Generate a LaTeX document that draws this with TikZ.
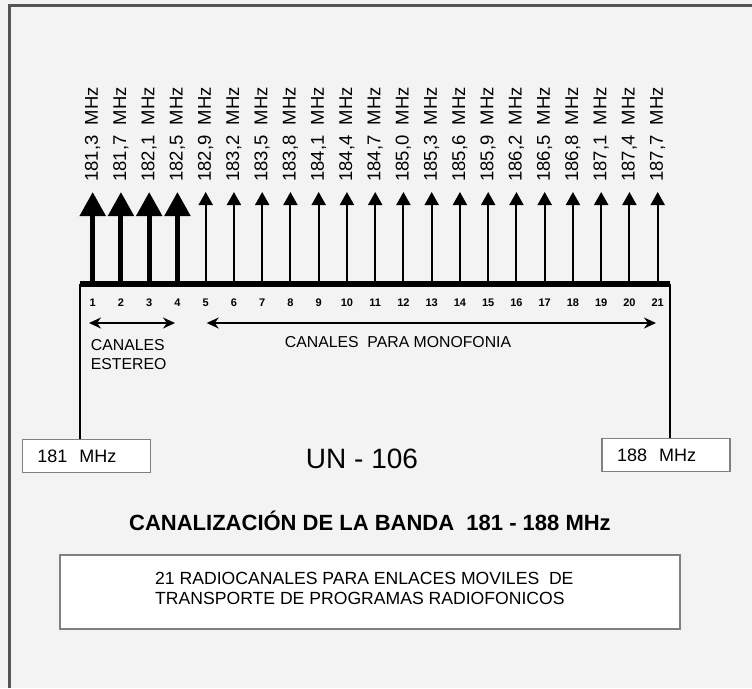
\documentclass[tikz,border=0pt]{standalone}
\usepackage{fontspec}
\setmainfont{Liberation Sans}
\usetikzlibrary{arrows.meta,positioning}
\definecolor{bggray}{HTML}{F3F3F3}
\definecolor{framegray}{HTML}{555555}
\definecolor{boxgray}{HTML}{808080}
\newcommand{\setfs}[2]{\fontsize{#1}{#2}\selectfont}

\begin{document}
\begin{tikzpicture}
  [
    x=1pt,y=-1pt,
    freq/.style={rotate=90, anchor=west, inner sep=0pt, font=\setfs{18.5pt}{21pt}},
    stereo/.style={line width=5pt, -{Triangle[width=25pt,length=24pt]}},
    mono/.style={line width=2pt, -{Triangle[width=14pt,length=13pt]}},
    chnum/.style={inner sep=0pt, font=\bfseries\setfs{11pt}{13pt}},
    span/.style={line width=1.6pt, {Stealth[width=11pt,length=12pt]}-{Stealth[width=11pt,length=12pt]}},
    band/.style={draw=boxgray, line width=1.2pt, fill=white, minimum width=128pt, minimum height=33pt,
      inner xsep=15pt, text width=98pt, align=left, font=\setfs{18pt}{20pt}},
    legend/.style={inner sep=0pt, align=left, font=\setfs{15.8pt}{19.3pt}}
  ]
  \useasboundingbox (0,0) rectangle (752,688);
  \fill[bggray] (0,0) rectangle (752,688);
  \draw[framegray, line width=3pt] (9.3,688) -- (9.3,5) -- (752,5);

  % channel axis
  \coordinate (axisL) at (80,283.5);
  \coordinate (axisR) at (670,283.5);

  \foreach \f [count=\i] in {{181,3},{181,7},{182,1},{182,5},{182,9},{183,2},{183,5},
      {183,8},{184,1},{184,4},{184,7},{185,0},{185,3},{185,6},{185,9},{186,2},{186,5},
      {186,8},{187,1},{187,4},{187,7}}
  {
    \pgfmathsetmacro\xx{92.7+(\i-1)*28.25}
    \coordinate (b\i) at (\xx,284);
    \coordinate (t\i) at (\xx,192);
    \node[freq] (f\i) at (\xx,182) {\f\ \ MHz};
    \node[chnum] (n\i) at (\xx,303) {\i};
  }
  \foreach \i in {1,...,4} \draw[stereo] (b\i) -- (t\i);
  \foreach \i in {5,...,21} \draw[mono] (b\i) -- (t\i);

  \draw[line width=6pt] (axisL) -- (axisR);

  % stereo / mono ranges
  \coordinate (stL) at (89,323);
  \coordinate (stR) at (175,323);
  \coordinate (moL) at (206.7,323);
  \coordinate (moR) at (656,323);
  \draw[span] (stL) -- (stR);
  \draw[span] (moL) -- (moR);
  \node[legend, anchor=north west] (sttxt) at (90.7,339) {CANALES\\ESTEREO};
  \node[legend] (motxt) at (398,341.7) {CANALES\ \ PARA MONOFONIA};

  % band edges
  \node[band] (lo) at (86.3,456) {181\ \ MHz};
  \node[band] (hi) at (666,455) {188\ \ MHz};
  \draw[line width=2.2pt] (axisL) -- (axisL |- lo.north);
  \draw[line width=2.2pt] (axisR) -- (axisR |- hi.north);

  \node[inner sep=0pt, font=\setfs{28pt}{32pt}] (code) at (362,459) {UN - 106};
  \node[anchor=base, inner sep=0pt, font=\bfseries\setfs{22pt}{26pt}] (title) at (370,530.7)
    {CANALIZACIÓN DE LA BANDA\ \ 181 - 188 MHz};

  \node[draw=boxgray, line width=1.2pt, fill=white, minimum width=620pt, minimum height=74pt] (descbox) at (370,592) {};
  \node[anchor=north west, inner sep=0pt, align=left, font=\setfs{17.6pt}{19.5pt}] (desc) at (155,572.5)
    {21 RADIOCANALES PARA ENLACES MOVILES\ \ DE\\TRANSPORTE DE PROGRAMAS RADIOFONICOS};
\end{tikzpicture}
\end{document}
